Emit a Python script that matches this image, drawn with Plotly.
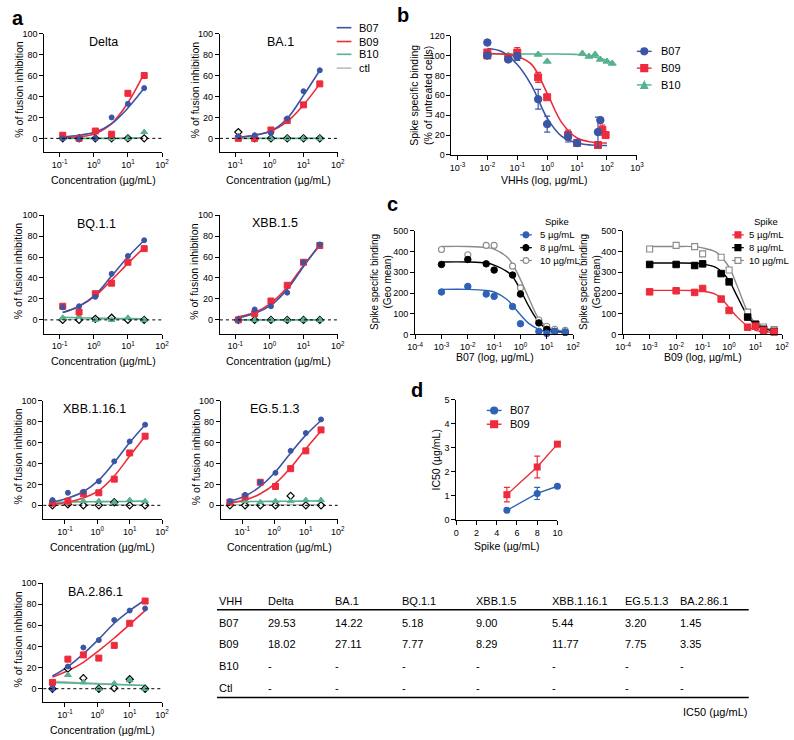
import plotly.graph_objects as go

W, H = 794, 740
FONT = "Liberation Sans, Arial, Helvetica, sans-serif"
BLUE = "#3B55A5"
RED = "#EE2B3C"
GREEN = "#56B28E"
GRAY = "#BEBEBE"
C_BLUE = "#2D62B5"
C_GRAY = "#8A8A8A"

# ---------------- panel a : fusion inhibition ----------------
conc6 = [0.123, 0.37, 1.11, 3.33, 10, 30]
conc7 = [0.041, 0.123, 0.37, 1.11, 3.33, 10, 30]

delta_b07 = [0, 0, 0, 20, 33, 48]
delta_b09 = [3, 0, 7, 4, 43, 60]
delta_b10 = [0, 0, 0, 0, 0, 6]
delta_ctl = [0, 0, 0, 0, 0, 0]
delta_b07_fit = [1.5, 3, 6, 14, 29, 48]
delta_b09_fit = [0.5, 1.5, 4.5, 14, 34, 62]
delta_b10_fit = [0, 0, 0, 0, 0.2, 0.8]
delta_ctl_fit = [0, 0, 0, 0, 0, 0]

ba1_b07 = [2, 3, 5, 19, 45, 65]
ba1_b09 = [0, 0, 8, 17, 32, 52]
ba1_b10 = [0, 0, 0, 0, 0, 0]
ba1_ctl = [6, 0, 0, 0, 0, 0]
ba1_b07_fit = [1, 3, 7, 19, 41, 65]
ba1_b09_fit = [1, 3, 7, 16, 32, 52]
ba1_b10_fit = [0, 0, 0, 0, 0, 0]
ba1_ctl_fit = [0, 0, 0, 0, 0, 0]

bq_b07 = [12, 13, 22, 44, 61, 76]
bq_b09 = [13, 7.5, 25, 35, 55, 68]
bq_b10 = [2, 3, 0, 0, 2, 0]
bq_ctl = [0, 0, 1, 2, 0, 0]
bq_b07_fit = [7, 13, 24, 42, 60, 76]
bq_b09_fit = [7, 13, 23, 38, 54, 69]
bq_b10_fit = [2.5, 2, 1.7, 1.4, 1.2, 1]
bq_ctl_fit = [0.5, 0.5, 0.5, 0.5, 0.5, 0.5]

x15_b07 = [0, 10, 13, 26, 55, 72]
x15_b09 = [0, 6, 18, 33, 55, 71]
x15_b10 = [0, 0, 0, 0, 0, 0]
x15_ctl = [0, 0, 0, 0, 0, 0]
x15_b07_fit = [2, 6, 14, 29, 51, 72]
x15_b09_fit = [3, 7, 16, 31, 52, 71]
x15_b10_fit = [0, 0, 0, 0, 0, 0]
x15_ctl_fit = [0, 0, 0, 0, 0, 0]

x116_b07 = [5, 12, 13, 23, 42, 61, 77]
x116_b09 = [2, 4, 11, 12, 25, 50, 66]
x116_b10 = [3, 3, 4, 4, 3, 5, 4]
x116_ctl = [0, 1, 0, 0, 3, 0, 0]
x116_b07_fit = [3, 7, 13, 24, 41, 60, 77]
x116_b09_fit = [1, 3, 7, 14, 28, 47, 66]
x116_b10_fit = [3, 3.2, 3.4, 3.5, 3.6, 3.8, 4]
x116_ctl_fit = [0.5, 0.5, 0.5, 0.5, 0.5, 0.5, 0.5]

eg_b07 = [4, 10, 22, 31, 52, 69, 82]
eg_b09 = [3, 8, 22, 18, 35, 52, 72]
eg_b10 = [3, 4, 3, 4, 4, 5, 5]
eg_ctl = [0, 0, 0, 0, 9, 0, 0]
eg_b07_fit = [4, 9, 18, 32, 50, 67, 81]
eg_b09_fit = [2, 5, 11, 21, 36, 54, 71]
eg_b10_fit = [3.5, 3.6, 3.7, 3.8, 3.9, 4.1, 4.3]
eg_ctl_fit = [0.5, 0.5, 0.5, 0.5, 0.5, 0.5, 0.5]

ba286_b07 = [0, 21, 39, 46, 65, 74, 76]
ba286_b09 = [6, 28, 32, 29, 41, 62, 83]
ba286_b10 = [6, 13, 6, 0, 5, 8, 0]
ba286_ctl = [0, 19, 10, 0, 0.5, 9, 0]
ba286_b07_fit = [12, 21, 33, 47, 62, 74, 84]
ba286_b09_fit = [11, 17, 25, 36, 48, 61, 74]
ba286_b10_fit = [6, 5.5, 5, 4.5, 4, 3.5, 3]
ba286_ctl_fit = [7, 6.3, 5.7, 5, 4.4, 3.8, 3.2]

# ---------------- panel b : spike binding ----------------
b07_x = [0.01, 0.01, 0.05, 0.1, 0.5, 1, 5, 10, 50, 60]
b07_y = [113, 100, 96, 99, 56, 31, 18, 12, 23, 35]
b07_err = [0, 0, 0, 4, 10, 8, 5, 3, 15, 0]
b09_x = [0.01, 0.01, 0.05, 0.1, 0.5, 1, 5, 10, 50, 70, 90]
b09_y = [103, 100, 98, 103, 78, 58, 20, 12, 10, 25, 20]
b09_err = [3, 0, 0, 5, 5, 0, 5, 3, 3, 5, 0]
b10_x = [0.01, 0.05, 0.1, 0.5, 1, 15, 25, 40, 60, 100, 150]
b10_y = [101, 100, 101, 101, 94, 102, 99, 101, 96, 94, 92]
bfit_x = [0.01, 0.03, 0.1, 0.3, 1, 3, 10, 30, 100]
b07_fit = [107, 104, 91, 70, 37, 19, 12, 10, 9.5]
b09_fit = [102, 101.5, 99, 91, 62, 33, 17, 13, 12]
b10_fit_x = [0.01, 0.1, 1, 10, 30, 100, 150]
b10_fit = [101.5, 101.5, 101.5, 101, 99, 95, 92]

# ---------------- panel c : spike titration ----------------
c_x = [0.001, 0.01, 0.05, 0.1, 0.5, 1, 5, 10, 20, 50]
cL_5 = [205, 232, 195, 184, 135, 52, 15, 5, 15, 12]
cL_8 = [338, 362, 341, 311, 287, 195, 56, 25, 15, 10]
cL_10 = [410, 385, 430, 430, 330, 225, 70, 40, 25, 20]
cfit_x = [0.001, 0.01, 0.05, 0.1, 0.3, 0.5, 1, 2, 5, 10, 50]
cL_5_fit = [218, 218, 212, 205, 170, 140, 95, 55, 25, 15, 11]
cL_8_fit = [350, 350, 345, 335, 305, 280, 215, 140, 60, 28, 10]
cL_10_fit = [425, 425, 420, 412, 375, 340, 265, 180, 75, 38, 15]
cR_5 = [206, 211, 203, 222, 171, 116, 35, 40, 20, 12]
cR_8 = [338, 338, 333, 341, 294, 254, 84, 49, 25, 15]
cR_10 = [413, 430, 424, 389, 373, 311, 108, 50, 36, 24]
cR_5_fit = [213, 213, 212, 210, 195, 175, 130, 85, 40, 20, 10]
cR_8_fit = [345, 345, 344, 340, 325, 305, 260, 185, 90, 45, 15]
cR_10_fit = [425, 425, 424, 418, 400, 375, 325, 235, 110, 55, 20]

# ---------------- panel d : IC50 vs spike ----------------
d_spike = [5, 8, 10]
d_b07 = [0.4, 1.1, 1.4]
d_b07_err = [0.05, 0.25, 0.05]
d_b09 = [1.05, 2.2, 3.15]
d_b09_err = [0.3, 0.45, 0.1]

# ---------------- table ----------------
tbl_header = ["VHH", "Delta", "BA.1", "BQ.1.1", "XBB.1.5", "XBB.1.16.1", "EG.5.1.3", "BA.2.86.1"]
tbl_rows = [
    ["B07", "29.53", "14.22", "5.18", "9.00", "5.44", "3.20", "1.45"],
    ["B09", "18.02", "27.11", "7.77", "8.29", "11.77", "7.75", "3.35"],
    ["B10", "-", "-", "-", "-", "-", "-", "-"],
    ["Ctl", "-", "-", "-", "-", "-", "-", "-"],
]

# =============================================================
fig = go.Figure()
shapes, annotations = [], []
axes = {}


def px(x):
    return x / W


def py(y):
    return 1 - y / H


def xr(n):
    return "x" if n == 1 else "x%d" % n


def yr(n):
    return "y" if n == 1 else "y%d" % n


def text(x, y, s, size=10.5, xanchor="center", yanchor="middle", angle=0, color="black"):
    annotations.append(dict(x=px(x), y=py(y), xref="paper", yref="paper", text=s, showarrow=False,
                            xanchor=xanchor, yanchor=yanchor, textangle=angle,
                            font=dict(family=FONT, size=size, color=color)))


def hline(x0, x1, y, color, width=1.5):
    shapes.append(dict(type="line", xref="paper", yref="paper", x0=px(x0), x1=px(x1),
                       y0=py(y), y1=py(y), line=dict(color=color, width=width)))


def legend_marker(cx, cy, symbol, color, size, filled=True):
    r = size / 2.0
    fill = color if filled else "white"
    if symbol == "circle":
        shapes.append(dict(type="circle", xref="paper", yref="paper", x0=px(cx - r), x1=px(cx + r),
                           y0=py(cy + r), y1=py(cy - r), fillcolor=fill, line=dict(color=color, width=1.2)))
    elif symbol == "square":
        shapes.append(dict(type="rect", xref="paper", yref="paper", x0=px(cx - r), x1=px(cx + r),
                           y0=py(cy + r), y1=py(cy - r), fillcolor=fill, line=dict(color=color, width=1.2)))
    else:
        path = "M %f,%f L %f,%f L %f,%f Z" % (px(cx), py(cy - r), px(cx - r), py(cy + r), px(cx + r), py(cy + r))
        shapes.append(dict(type="path", xref="paper", yref="paper", path=path, fillcolor=fill,
                           line=dict(color=color, width=1.2)))


AX = dict(showline=True, linecolor="black", linewidth=1, ticks="outside", ticklen=4, tickwidth=1,
          tickcolor="black", showgrid=False, zeroline=False, fixedrange=True,
          tickfont=dict(family=FONT, size=9, color="black"))


def log_ticks(lo, hi):
    vals = [10.0 ** k for k in range(lo, hi + 1)]
    labels = ["10<sup>%d</sup>" % k for k in range(lo, hi + 1)]
    return vals, labels


def make_axes(n, box, xtype, xrange, yrange, xvals, xtext, yvals):
    x0, x1, y0, y1 = box
    xn = "xaxis" if n == 1 else "xaxis%d" % n
    yn = "yaxis" if n == 1 else "yaxis%d" % n
    axes[xn] = dict(AX, domain=[px(x0), px(x1)], anchor=yr(n), type=xtype, range=xrange,
                    tickvals=xvals, ticktext=xtext)
    axes[yn] = dict(AX, domain=[py(y1), py(y0)], anchor=xr(n), range=yrange, tickvals=yvals)


def curve(n, x, y, color, width=1.6):
    fig.add_trace(go.Scatter(x=x, y=y, mode="lines", xaxis=xr(n), yaxis=yr(n), showlegend=False,
                             hoverinfo="skip", line=dict(color=color, width=width, shape="spline", smoothing=1.0)))


def points(n, x, y, color, symbol, size, fill=None, err=None, lw=1.0):
    mk = dict(color=fill if fill else color, symbol=symbol, size=size, line=dict(color=color, width=lw))
    kw = {}
    if err is not None:
        kw["error_y"] = dict(type="data", array=err, visible=True, color=color, thickness=1.2, width=3)
    fig.add_trace(go.Scatter(x=x, y=y, mode="markers", xaxis=xr(n), yaxis=yr(n), showlegend=False,
                             hoverinfo="skip", marker=mk, cliponaxis=False, **kw))


# ---------------- build panel a ----------------
a_panels = [
    ("Delta", conc6, (37, 157, 29, 149), [-1.45, 2.0],
     (delta_b07, delta_b09, delta_b10, delta_ctl), (delta_b07_fit, delta_b09_fit, delta_b10_fit, delta_ctl_fit), (97, 38)),
    ("BA.1", conc6, (216, 336, 29, 149), [-1.45, 2.0],
     (ba1_b07, ba1_b09, ba1_b10, ba1_ctl), (ba1_b07_fit, ba1_b09_fit, ba1_b10_fit, ba1_ctl_fit), (278, 37)),
    ("BQ.1.1", conc6, (37, 157, 213, 333), [-1.45, 2.0],
     (bq_b07, bq_b09, bq_b10, bq_ctl), (bq_b07_fit, bq_b09_fit, bq_b10_fit, bq_ctl_fit), (90, 222)),
    ("XBB.1.5", conc6, (216, 336, 213, 333), [-1.45, 2.0],
     (x15_b07, x15_b09, x15_b10, x15_ctl), (x15_b07_fit, x15_b09_fit, x15_b10_fit, x15_ctl_fit), (272, 221)),
    ("XBB.1.16.1", conc7, (36, 157, 401, 521), [-1.67, 2.0],
     (x116_b07, x116_b09, x116_b10, x116_ctl), (x116_b07_fit, x116_b09_fit, x116_b10_fit, x116_ctl_fit), (88, 410)),
    ("EG.5.1.3", conc7, (217, 336, 401, 521), [-1.67, 2.0],
     (eg_b07, eg_b09, eg_b10, eg_ctl), (eg_b07_fit, eg_b09_fit, eg_b10_fit, eg_ctl_fit), (272, 410)),
    ("BA.2.86.1", conc7, (36, 157, 586, 707), [-1.67, 2.0],
     (ba286_b07, ba286_b09, ba286_b10, ba286_ctl), (ba286_b07_fit, ba286_b09_fit, ba286_b10_fit, ba286_ctl_fit), (89, 595)),
]

lxv, lxt = log_ticks(-1, 2)
for i, (name, xs, box, xrange_, pts, fits, tpos) in enumerate(a_panels):
    n = i + 1
    make_axes(n, box, "log", xrange_, [-13, 100], lxv, lxt, [0, 20, 40, 60, 80, 100])
    # dotted zero line
    shapes.append(dict(type="line", xref=("x domain" if n == 1 else "x%d domain" % n), yref=yr(n),
                       x0=0, x1=1, y0=0, y1=0, line=dict(color="black", width=1, dash="dot"), layer="above"))
    b07, b09, b10, ctl = pts
    f07, f09, f10, fct = fits
    curve(n, xs, fct, GRAY, 1.4)
    curve(n, xs, f10, GREEN)
    curve(n, xs, f09, RED)
    curve(n, xs, f07, BLUE)
    points(n, xs, ctl, "black", "diamond", 5.5, fill="white", lw=1.2)
    points(n, xs, b10, GREEN, "triangle-up", 6)
    points(n, xs, b09, RED, "square", 6)
    points(n, xs, b07, BLUE, "circle", 5)
    x0, x1, y0, y1 = box
    text(tpos[0], tpos[1], name, size=12.5)
    text(x0 - 26, (y0 + y1) / 2 - 3, "% of fusion inhibition", size=10.5, angle=-90)
    text((x0 + x1) / 2, y1 + 28, "Concentration (µg/mL)", size=10.5)

# legend a
for (lab, col, yy) in [("B07", BLUE, 23), ("B09", RED, 37), ("B10", GREEN, 50), ("ctl", GRAY, 64)]:
    hline(335, 350, yy, col, 1.6)
    text(356, yy, lab, size=11, xanchor="left")

# ---------------- panel b ----------------
n = 8
bxv, bxt = log_ticks(-3, 3)
make_axes(n, (452, 641, 31, 152), "log", [-3.2, 3.0], [0, 120], bxv, bxt, [0, 20, 40, 60, 80, 100, 120])
curve(n, b10_fit_x, b10_fit, GREEN)
curve(n, bfit_x, b09_fit, RED)
curve(n, bfit_x, b07_fit, BLUE)
points(n, b10_x, b10_y, GREEN, "triangle-up", 7)
points(n, b09_x, b09_y, RED, "square", 7, err=b09_err)
points(n, b07_x, b07_y, BLUE, "circle", 7.5, err=b07_err)
text(421, 92, "Spike specific binding<br>(% of untreated cells)", size=10.5, angle=-90)
text(547, 177, "VHHs (log, µg/mL)", size=10.5)
for (lab, col, sym, yy) in [("B07", BLUE, "circle", 47), ("B09", RED, "square", 64), ("B10", GREEN, "triangle", 81)]:
    hline(641, 656, yy, col, 1.4)
    legend_marker(648.5, yy, sym, col, 7)
    text(664, yy, lab, size=11, xanchor="left")

# ---------------- panel c ----------------
cxv, cxt = log_ticks(-4, 2)
cyv = [0, 100, 200, 300, 400, 500]
make_axes(9, (415, 576, 229, 334), "log", [-4, 2], [0, 500], cxv, cxt, cyv)
make_axes(10, (627, 789, 229, 334), "log", [-4, 2], [0, 500], cxv, cxt, cyv)
curve(9, cfit_x, cL_10_fit, C_GRAY, 1.4)
curve(9, cfit_x, cL_8_fit, "black", 1.4)
curve(9, cfit_x, cL_5_fit, C_BLUE, 1.4)
points(9, c_x, cL_10, C_GRAY, "circle", 6, fill="white", lw=1.1)
points(9, c_x, cL_8, "black", "circle", 6.5)
points(9, c_x, cL_5, C_BLUE, "circle", 6.5)
curve(10, cfit_x, cR_10_fit, C_GRAY, 1.4)
curve(10, cfit_x, cR_8_fit, "black", 1.4)
curve(10, cfit_x, cR_5_fit, RED, 1.4)
points(10, c_x, cR_10, C_GRAY, "square", 6, fill="white", lw=1.1)
points(10, c_x, cR_8, "black", "square", 6.5)
points(10, c_x, cR_5, RED, "square", 6.5)
text(380, 281, "Spike specific binding<br>(Geo mean)", size=10, angle=-90)
text(593, 281, "Spike specific binding<br>(Geo mean)", size=10, angle=-90)
text(496, 357, "B07 (log, µg/mL)", size=10.5)
text(708, 357, "B09 (log, µg/mL)", size=10.5)
for (lx, tx, sym, cols) in [(528, 540, "circle", (C_BLUE, "black", C_GRAY)), (744, 753, "square", (RED, "black", C_GRAY))]:
    text(tx + 20, 219, "Spike", size=9.5)
    for (lab, col, yy, filled) in [("5 µg/mL", cols[0], 233, True), ("8 µg/mL", cols[1], 246, True),
                                   ("10 µg/mL", cols[2], 259, False)]:
        hline(lx - 6, lx + 6, yy, col, 1.2)
        legend_marker(lx, yy, sym, col, 6, filled)
        text(tx, yy, lab, size=9.5, xanchor="left")

# ---------------- panel d ----------------
make_axes(11, (457, 560, 400, 522), "linear", [0, 10], [0, 5], [0, 2, 4, 6, 8, 10], None, [0, 1, 2, 3, 4, 5])
axes["xaxis11"].pop("ticktext")
fig.add_trace(go.Scatter(x=d_spike, y=d_b09, mode="lines+markers", xaxis="x11", yaxis="y11", showlegend=False,
                         line=dict(color=RED, width=1.4), marker=dict(symbol="square", size=7, color=RED),
                         error_y=dict(type="data", array=d_b09_err, color=RED, thickness=1.2, width=3),
                         cliponaxis=False, hoverinfo="skip"))
fig.add_trace(go.Scatter(x=d_spike, y=d_b07, mode="lines+markers", xaxis="x11", yaxis="y11", showlegend=False,
                         line=dict(color=C_BLUE, width=1.4), marker=dict(symbol="circle", size=7, color=C_BLUE),
                         error_y=dict(type="data", array=d_b07_err, color=C_BLUE, thickness=1.2, width=3),
                         cliponaxis=False, hoverinfo="skip"))
text(436, 461, "IC50 (µg/mL)", size=10.5, angle=-90)
text(509, 548, "Spike (µg/mL)", size=10.5)
for (lab, col, sym, yy) in [("B07", C_BLUE, "circle", 411), ("B09", RED, "square", 425)]:
    hline(488, 503, yy, col, 1.4)
    legend_marker(495.5, yy, sym, col, 7)
    text(510, yy, lab, size=11, xanchor="left")

# ---------------- panel letters ----------------
text(10, 13, "<b>a</b>", size=20)
text(403, 10, "<b>b</b>", size=20)
text(392, 202, "<b>c</b>", size=20)
text(417, 390, "<b>d</b>", size=20)

# ---------------- table ----------------
col_x = [213, 263, 331, 400, 475, 552, 627, 683]
row_y = [604, 626, 648, 670, 692]
for j, h in enumerate(tbl_header):
    text(col_x[j], row_y[0], h, size=11, xanchor="left")
hline(213, 755, 613, "black", 1.5)
for i, row in enumerate(tbl_rows):
    for j, v in enumerate(row):
        text(col_x[j], row_y[i + 1], v, size=11, xanchor="left")
hline(213, 755, 702, "black", 1.5)
text(755, 717, "IC50 (µg/mL)", size=11, xanchor="right")

fig.update_layout(width=W, height=H, margin=dict(l=0, r=0, t=0, b=0), paper_bgcolor="white",
                  plot_bgcolor="white", showlegend=False, shapes=shapes, annotations=annotations,
                  font=dict(family=FONT, color="black"), **axes)
fig.write_html("out.html", include_plotlyjs=True, config={"displayModeBar": False})
